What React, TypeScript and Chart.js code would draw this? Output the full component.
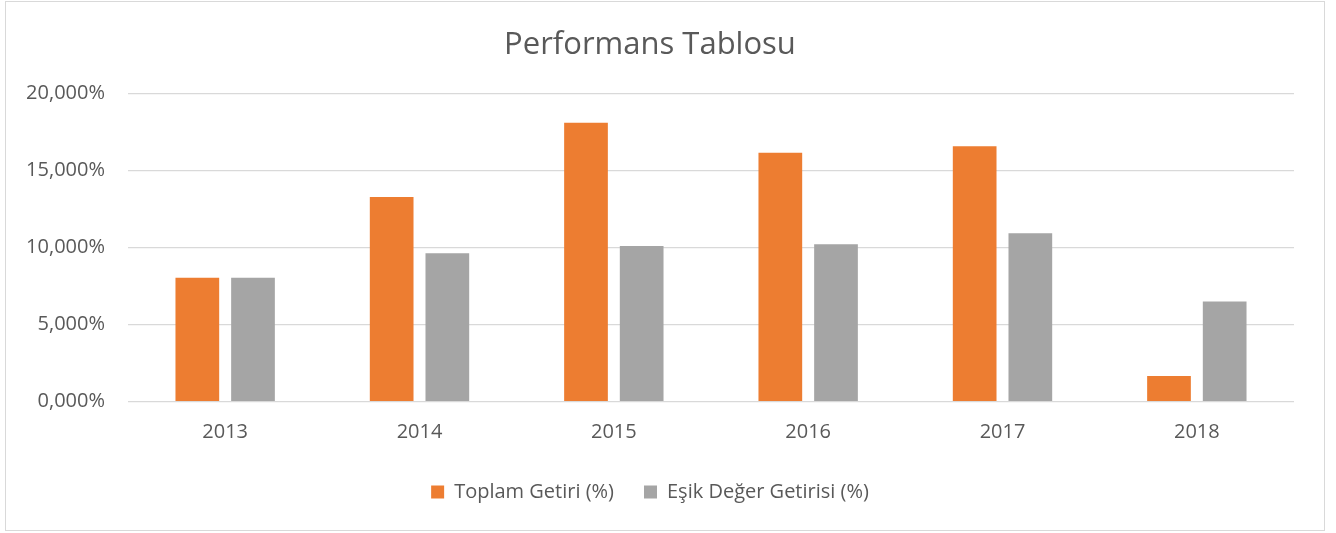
import React, { useEffect, useRef } from "react";
import { Chart, registerables } from "chart.js";

Chart.register(...registerables);

const categories = ["2013", "2014", "2015", "2016", "2017", "2018"];
const toplamGetiri = [8.04, 13.27, 18.09, 16.15, 16.56, 1.67];
const esikDegerGetirisi = [8.04, 9.62, 10.1, 10.21, 10.92, 6.49];
const seriesNames = ["Toplam Getiri (%)", "Eşik Değer Getirisi (%)"];
const yMin = 0;
const yMax = 20;
const yStep = 5;

const FONT = "'Open Sans', sans-serif";
const TEXT = "#595959";

export default function App() {
  const ref = useRef<HTMLCanvasElement | null>(null);
  useEffect(() => {
    if (!ref.current) return;
    const chart = new Chart(ref.current, {
      type: "bar",
      data: {
        labels: categories,
        datasets: [
          {
            label: seriesNames[0],
            data: toplamGetiri,
            backgroundColor: "#ED7D31",
            categoryPercentage: 0.573,
            barPercentage: 0.785,
          },
          {
            label: seriesNames[1],
            data: esikDegerGetirisi,
            backgroundColor: "#A5A5A5",
            categoryPercentage: 0.573,
            barPercentage: 0.785,
          },
        ],
      },
      options: {
        animation: false,
        responsive: false,
        maintainAspectRatio: false,
        layout: { padding: { left: 0, right: 30, top: 0, bottom: 18 } },
        plugins: {
          title: {
            display: true,
            text: "Performans Tablosu",
            color: TEXT,
            font: { family: FONT, size: 31, weight: "normal" },
            padding: { top: 24.4, bottom: 29.7 },
          },
          legend: {
            position: "bottom",
            labels: {
              color: TEXT,
              font: { family: FONT, size: 20 },
              boxWidth: 13,
              boxHeight: 13,
              padding: 30,
            },
          },
          tooltip: { enabled: false },
        },
        scales: {
          x: {
            grid: { display: false, drawTicks: false },
            border: { display: false },
            ticks: { color: TEXT, font: { family: FONT, size: 20 }, padding: 19 },
            afterFit: (s: any) => {
              s.height = 50.3;
            },
          },
          y: {
            min: yMin,
            max: yMax,
            grid: { color: "#d9d9d9", lineWidth: 1.3, drawTicks: false },
            border: { display: false },
            ticks: {
              stepSize: yStep,
              color: TEXT,
              font: { family: FONT, size: 20 },
              padding: 23,
              callback: (v: any) => Number(v).toFixed(3).replace(".", ",") + "%",
            },
            afterFit: (s: any) => {
              s.width = 122;
            },
          },
        },
      },
    });
    return () => chart.destroy();
  }, []);
  return (
    <div
      style={{
        position: "absolute",
        left: 5,
        top: 1,
        width: 1318,
        height: 528,
        border: "1px solid #d9d9d9",
        background: "#fff",
      }}
    >
      <canvas ref={ref} width={1318} height={528} style={{ display: "block" }} />
    </div>
  );
}
